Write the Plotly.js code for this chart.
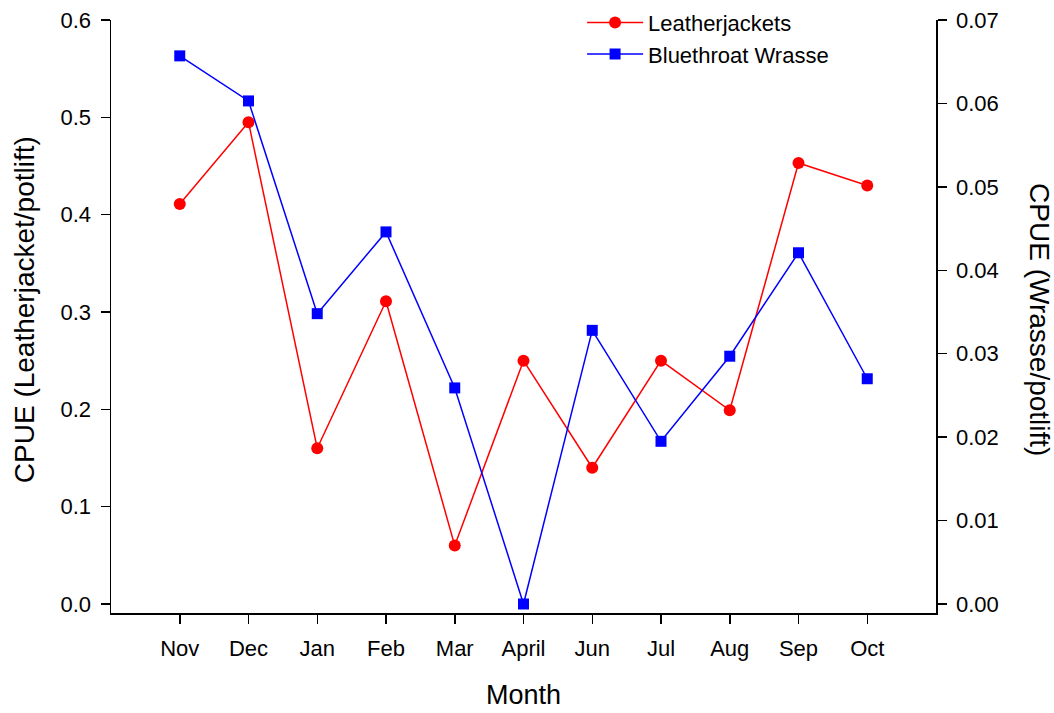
<!DOCTYPE html>
<html>
<head>
<meta charset="utf-8">
<script src="https://cdn.plot.ly/plotly-3.0.1.min.js"></script>
<style>
  html, body { margin: 0; padding: 0; background: #fff; }
  #myDiv { width: 1054px; height: 713px; }
</style>
</head>
<body>
<div id="myDiv"></div>
<script>
let months = ["Nov", "Dec", "Jan", "Feb", "Mar", "April", "Jun", "Jul", "Aug", "Sep", "Oct"];
let leatherjackets = [0.411, 0.495, 0.160, 0.311, 0.060, 0.250, 0.140, 0.250, 0.199, 0.453, 0.430];
let wrasse = [0.0657, 0.0603, 0.0348, 0.0446, 0.0259, 0.0, 0.0328, 0.0195, 0.0297, 0.0421, 0.0270];

let font = "Liberation Sans, Arial, sans-serif";

drawGraph();

function drawGraph() {
  let leatherGraph = {
    x: months,
    y: leatherjackets,
    name: "Leatherjackets",
    mode: "lines+markers",
    type: "scatter",
    line: { color: "#ff0000", width: 1.5 },
    marker: { color: "#ff0000", size: 12, symbol: "circle" }
  };

  let wrasseGraph = {
    x: months,
    y: wrasse,
    name: "Bluethroat Wrasse",
    yaxis: "y2",
    mode: "lines+markers",
    type: "scatter",
    line: { color: "#0000ff", width: 1.5 },
    marker: { color: "#0000ff", size: 11, symbol: "square" }
  };

  let axisStyle = {
    showline: true,
    linecolor: "#000",
    linewidth: 1.5,
    ticks: "outside",
    ticklen: 9,
    tickwidth: 1.5,
    tickcolor: "#000",
    showgrid: false,
    zeroline: false,
    automargin: false,
    tickfont: { family: font, size: 22, color: "#000" }
  };

  let layout = {
    width: 1054,
    height: 713,
    margin: { l: 111, r: 118, t: 20, b: 100, autoexpand: false },
    paper_bgcolor: "#fff",
    plot_bgcolor: "#fff",
    showlegend: true,
    legend: {
      x: 0.571,
      y: 1.031,
      xanchor: "left",
      yanchor: "top",
      bgcolor: "rgba(0,0,0,0)",
      itemwidth: 56,
      tracegroupgap: 0,
      font: { family: font, size: 22, color: "#000" }
    },
    xaxis: Object.assign({}, axisStyle, {
      type: "category",
      range: [-1, 11],
      ticklabelstandoff: 6
    }),
    yaxis: Object.assign({}, axisStyle, {
      range: [-0.00923, 0.6],
      dtick: 0.1,
      tick0: 0,
      tickformat: ".1f",
      ticklabelstandoff: 5
    }),
    yaxis2: Object.assign({}, axisStyle, {
      overlaying: "y",
      side: "right",
      range: [-0.00108, 0.07],
      dtick: 0.01,
      tick0: 0,
      tickformat: ".2f",
      ticklabelstandoff: 5
    }),
    annotations: [
      {
        text: "Month",
        xref: "paper", yref: "paper",
        x: 0.5, y: -0.138,
        xanchor: "center", yanchor: "middle",
        showarrow: false,
        font: { family: font, size: 27, color: "#000" }
      },
      {
        text: "CPUE (Leatherjacket/potlift)",
        xref: "paper", yref: "paper",
        x: -0.104, y: 0.511,
        xanchor: "center", yanchor: "middle",
        textangle: -90,
        showarrow: false,
        font: { family: font, size: 28, color: "#000" }
      },
      {
        text: "CPUE (Wrasse/potlift)",
        xref: "paper", yref: "paper",
        x: 1.126, y: 0.494,
        xanchor: "center", yanchor: "middle",
        textangle: 90,
        showarrow: false,
        font: { family: font, size: 28, color: "#000" }
      }
    ]
  };

  Plotly.newPlot("myDiv", [leatherGraph, wrasseGraph], layout, { staticPlot: true });
}
</script>
</body>
</html>
